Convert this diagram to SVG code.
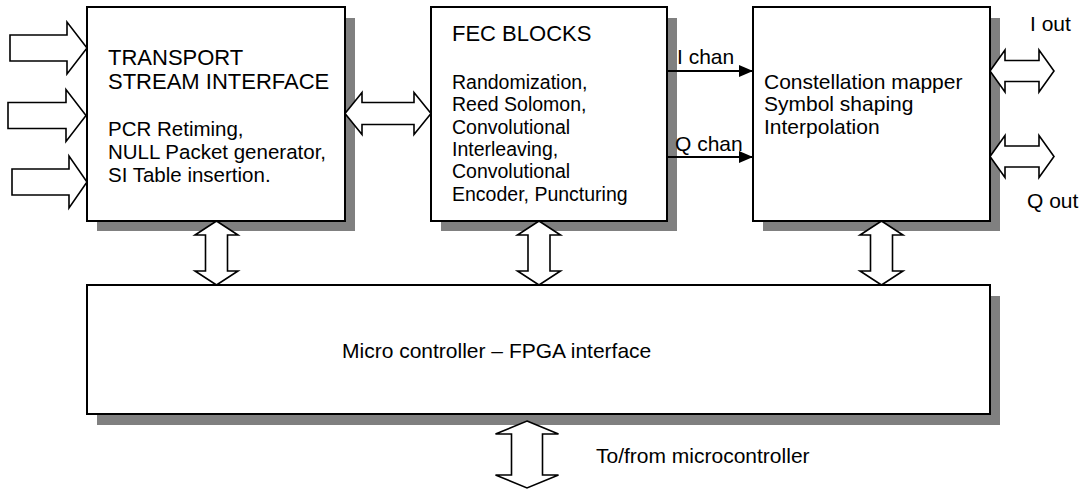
<svg xmlns="http://www.w3.org/2000/svg" width="1084" height="489" viewBox="0 0 1084 489">
  <style>
    .shadow { fill: #808080; }
    .box { fill: #ffffff; stroke: #000000; stroke-width: 2; }
    .barrow { fill: #ffffff; stroke: #000000; stroke-width: 1.6; stroke-linejoin: miter; }
    .line { stroke: #000000; stroke-width: 2; fill: none; }
    text { font-family: "Liberation Sans", Arial, sans-serif; font-size: 21px; fill: #000000; }
    .title { font-size: 22px; }
    .body1 { font-size: 20.5px; }
    .body2 { font-size: 19.5px; }
  </style>
  <defs>
    <marker id="head" viewBox="0 0 14 12" refX="14" refY="6" markerWidth="14" markerHeight="12" markerUnits="userSpaceOnUse" orient="auto">
      <path d="M0,0 L14,6 L0,12 Z" fill="#000000"/>
    </marker>
  </defs>

  <!-- Transport stream interface -->
  <g id="ts-interface">
    <rect class="shadow" x="97" y="18" width="258" height="213"/>
    <rect class="box" x="87" y="7" width="258" height="214"/>
    <text class="title" x="108" y="65">TRANSPORT</text>
    <text class="title" x="108" y="89">STREAM INTERFACE</text>
    <text class="body1" x="108" y="136">PCR Retiming,</text>
    <text class="body1" x="108" y="159">NULL Packet generator,</text>
    <text class="body1" x="108" y="182">SI Table insertion.</text>
  </g>

  <!-- FEC blocks -->
  <g id="fec-blocks">
    <rect class="shadow" x="441" y="18" width="236" height="213"/>
    <rect class="box" x="431" y="7" width="236" height="214"/>
    <text class="title" x="452" y="41">FEC BLOCKS</text>
    <text class="body2" x="452" y="89">Randomization,</text>
    <text class="body2" x="452" y="111">Reed Solomon,</text>
    <text class="body2" x="452" y="133.5">Convolutional</text>
    <text class="body2" x="452" y="156">Interleaving,</text>
    <text class="body2" x="452" y="178">Convolutional</text>
    <text class="body2" x="452" y="200.5">Encoder, Puncturing</text>
  </g>

  <!-- Modulator back end -->
  <g id="mapper">
    <rect class="shadow" x="763" y="18" width="237" height="213"/>
    <rect class="box" x="753" y="7" width="237" height="214"/>
    <text x="764" y="89">Constellation mapper</text>
    <text x="764" y="111">Symbol shaping</text>
    <text x="764" y="134">Interpolation</text>
  </g>

  <!-- Microcontroller / FPGA interface -->
  <g id="mcu-interface">
    <rect class="shadow" x="97" y="296" width="903" height="129"/>
    <rect class="box" x="87" y="285" width="903" height="129"/>
    <text x="342" y="358">Micro controller – FPGA interface</text>
  </g>

  <g id="connectors">
    <!-- transport stream inputs -->
    <polygon class="barrow" points="10,35 67,35 67,22 87,48 67,74 67,61 10,61"/>
    <polygon class="barrow" points="8,102.5 66,102.5 66,89.5 86,115.5 66,141.5 66,128.5 8,128.5"/>
    <polygon class="barrow" points="12,169 69,169 69,156 87,182 69,208 69,195 12,195"/>

    <!-- TS interface <-> FEC -->
    <polygon class="barrow" points="345,113.5 362,92.5 362,102.5 414,102.5 414,92.5 431,113.5 414,134.5 414,124.5 362,124.5 362,134.5"/>

    <!-- I / Q channels -->
    <line class="line" x1="667" y1="71" x2="753" y2="71" marker-end="url(#head)"/>
    <line class="line" x1="667" y1="157" x2="753" y2="157" marker-end="url(#head)"/>

    <!-- I / Q outputs -->
    <polygon class="barrow" points="990,71 1005,50 1005,60.5 1039,60.5 1039,50 1054,71 1039,92 1039,81.5 1005,81.5 1005,92"/>
    <polygon class="barrow" points="990,156.5 1005,135.5 1005,146 1039,146 1039,135.5 1054,156.5 1039,177.5 1039,167 1005,167 1005,177.5"/>

    <!-- blocks <-> microcontroller interface -->
    <polygon class="barrow" points="216.5,221 238,235 227.5,235 227.5,271 238,271 216.5,285 195,271 205.5,271 205.5,235 195,235"/>
    <polygon class="barrow" points="539,221 560.5,235 550,235 550,271 560.5,271 539,285 517.5,271 528,271 528,235 517.5,235"/>
    <polygon class="barrow" points="881.5,221 903,235 892.5,235 892.5,271 903,271 881.5,285 860,271 870.5,271 870.5,235 860,235"/>

    <!-- to/from microcontroller -->
    <polygon class="barrow" points="527,421 558.5,434 542.5,434 542.5,475 558.5,475 527,488 495.5,475 511.5,475 511.5,434 495.5,434"/>
  </g>

  <g id="labels">
    <text x="677" y="64">I chan</text>
    <text x="675" y="151">Q chan</text>
    <text x="1030" y="31">I out</text>
    <text x="1027" y="208">Q out</text>
    <text x="596" y="463">To/from microcontroller</text>
  </g>
</svg>
